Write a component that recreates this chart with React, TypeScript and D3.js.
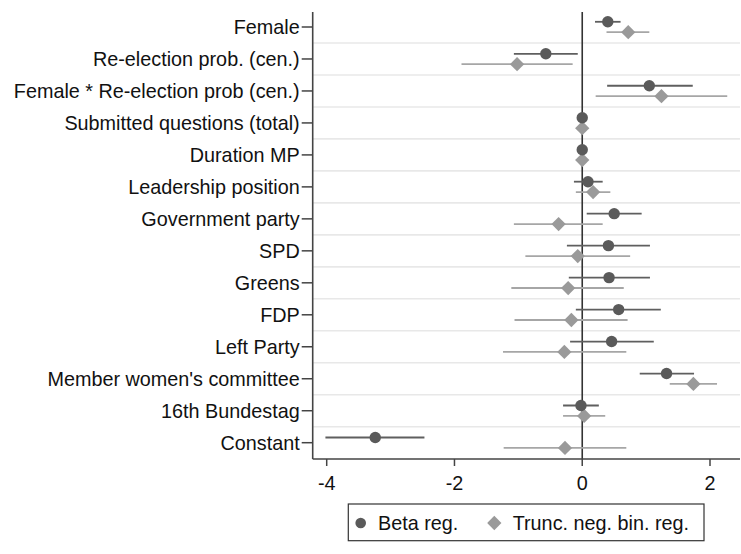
import React from "react";
import * as d3 from "d3";

const categories = [
  "Female",
  "Re-election prob. (cen.)",
  "Female * Re-election prob (cen.)",
  "Submitted questions (total)",
  "Duration MP",
  "Leadership position",
  "Government party",
  "SPD",
  "Greens",
  "FDP",
  "Left Party",
  "Member women's committee",
  "16th Bundestag",
  "Constant",
];

const betaEst = [0.4, -0.57, 1.05, 0.0, 0.0, 0.09, 0.5, 0.41, 0.42, 0.57, 0.46, 1.32, -0.02, -3.24];
const betaLo = [0.2, -1.07, 0.39, -0.01, -0.01, -0.13, 0.07, -0.24, -0.21, -0.1, -0.19, 0.9, -0.3, -4.02];
const betaHi = [0.6, -0.07, 1.73, 0.01, 0.01, 0.32, 0.93, 1.06, 1.06, 1.23, 1.12, 1.75, 0.26, -2.47];

const truncEst = [0.72, -1.02, 1.24, 0.0, 0.0, 0.17, -0.37, -0.07, -0.22, -0.17, -0.28, 1.74, 0.03, -0.27];
const truncLo = [0.38, -1.89, 0.21, -0.01, -0.01, -0.1, -1.07, -0.89, -1.11, -1.06, -1.24, 1.37, -0.3, -1.23];
const truncHi = [1.05, -0.15, 2.27, 0.01, 0.01, 0.44, 0.32, 0.75, 0.65, 0.71, 0.69, 2.11, 0.36, 0.69];

const xTicks = [-4, -2, 0, 2];
const legendLabels = ["Beta reg.", "Trunc. neg. bin. reg."];

const W = 741;
const H = 554;
const plotLeft = 312.7;
const plotRight = 740;
const plotTop = 12;
const plotBottom = 459;
const font = "'Liberation Sans', Arial, sans-serif";
const fs = 19.8;

export default function App() {
  const x = d3.scaleLinear().domain([-4, 2]).range([326.7, 710]);
  const y = d3.scalePoint<string>().domain(categories).range([27, 442.7]);
  const step = y.step();
  const off = 5.2;
  const diamond = d3.symbol().type(d3.symbolDiamond2).size(130)();
  const legDiamond = d3.symbol().type(d3.symbolDiamond2).size(130)();

  return (
    <svg
      width={W}
      height={H}
      style={{ position: "absolute", left: 0, top: 0, background: "#fff" }}
      fontFamily={font}
    >
      <rect x={0} y={0} width={W} height={H} fill="#fff" />
      {categories.slice(0, -1).map((c, i) => (
        <line
          key={"g" + i}
          x1={plotLeft}
          x2={plotRight}
          y1={(y(c) as number) + step / 2}
          y2={(y(c) as number) + step / 2}
          stroke="#e8e8e8"
          strokeWidth={1.6}
        />
      ))}
      <line x1={x(0)} x2={x(0)} y1={plotTop} y2={plotBottom} stroke="#333" strokeWidth={1.6} />
      {categories.map((c, i) => {
        const yc = y(c) as number;
        return (
          <g key={"ci" + i}>
            <line x1={x(betaLo[i])} x2={x(betaHi[i])} y1={yc - off} y2={yc - off} stroke="#5f5f5f" strokeWidth={1.8} />
            <line x1={x(truncLo[i])} x2={x(truncHi[i])} y1={yc + off} y2={yc + off} stroke="#a6a6a6" strokeWidth={1.8} />
          </g>
        );
      })}
      {categories.map((c, i) => {
        const yc = y(c) as number;
        return (
          <g key={"m" + i}>
            <path d={diamond as string} transform={`translate(${x(truncEst[i])},${yc + off})`} fill="#9a9a9a" />
            <circle cx={x(betaEst[i])} cy={yc - off} r={5.7} fill="#5a5a5a" />
          </g>
        );
      })}
      <line x1={plotLeft} x2={plotLeft} y1={plotTop} y2={plotBottom} stroke="#444" strokeWidth={1.6} />
      {categories.map((c, i) => {
        const yc = y(c) as number;
        return (
          <g key={"yt" + i}>
            <line x1={plotLeft - 11} x2={plotLeft} y1={yc} y2={yc} stroke="#444" strokeWidth={1.5} />
            <text x={plotLeft - 13} y={yc} dy="0.35em" textAnchor="end" fontSize={fs} fill="#111">
              {c}
            </text>
          </g>
        );
      })}
      <line x1={plotLeft} x2={plotRight} y1={plotBottom} y2={plotBottom} stroke="#444" strokeWidth={1.6} />
      {xTicks.map((t) => (
        <g key={"xt" + t}>
          <line x1={x(t)} x2={x(t)} y1={plotBottom} y2={plotBottom + 7} stroke="#444" strokeWidth={1.5} />
          <text x={x(t)} y={489.5} textAnchor="middle" fontSize={fs} fill="#111">
            {t}
          </text>
        </g>
      ))}
      <rect x={348.3} y={504} width={355.7} height={36.7} fill="#fff" stroke="#333" strokeWidth={1.2} />
      <circle cx={360.7} cy={523} r={5.3} fill="#5a5a5a" />
      <text x={378} y={530} fontSize={fs} fill="#111">
        {legendLabels[0]}
      </text>
      <path d={legDiamond as string} transform="translate(494.3,523)" fill="#9a9a9a" />
      <text x={512.7} y={530} fontSize={fs} fill="#111">
        {legendLabels[1]}
      </text>
    </svg>
  );
}
